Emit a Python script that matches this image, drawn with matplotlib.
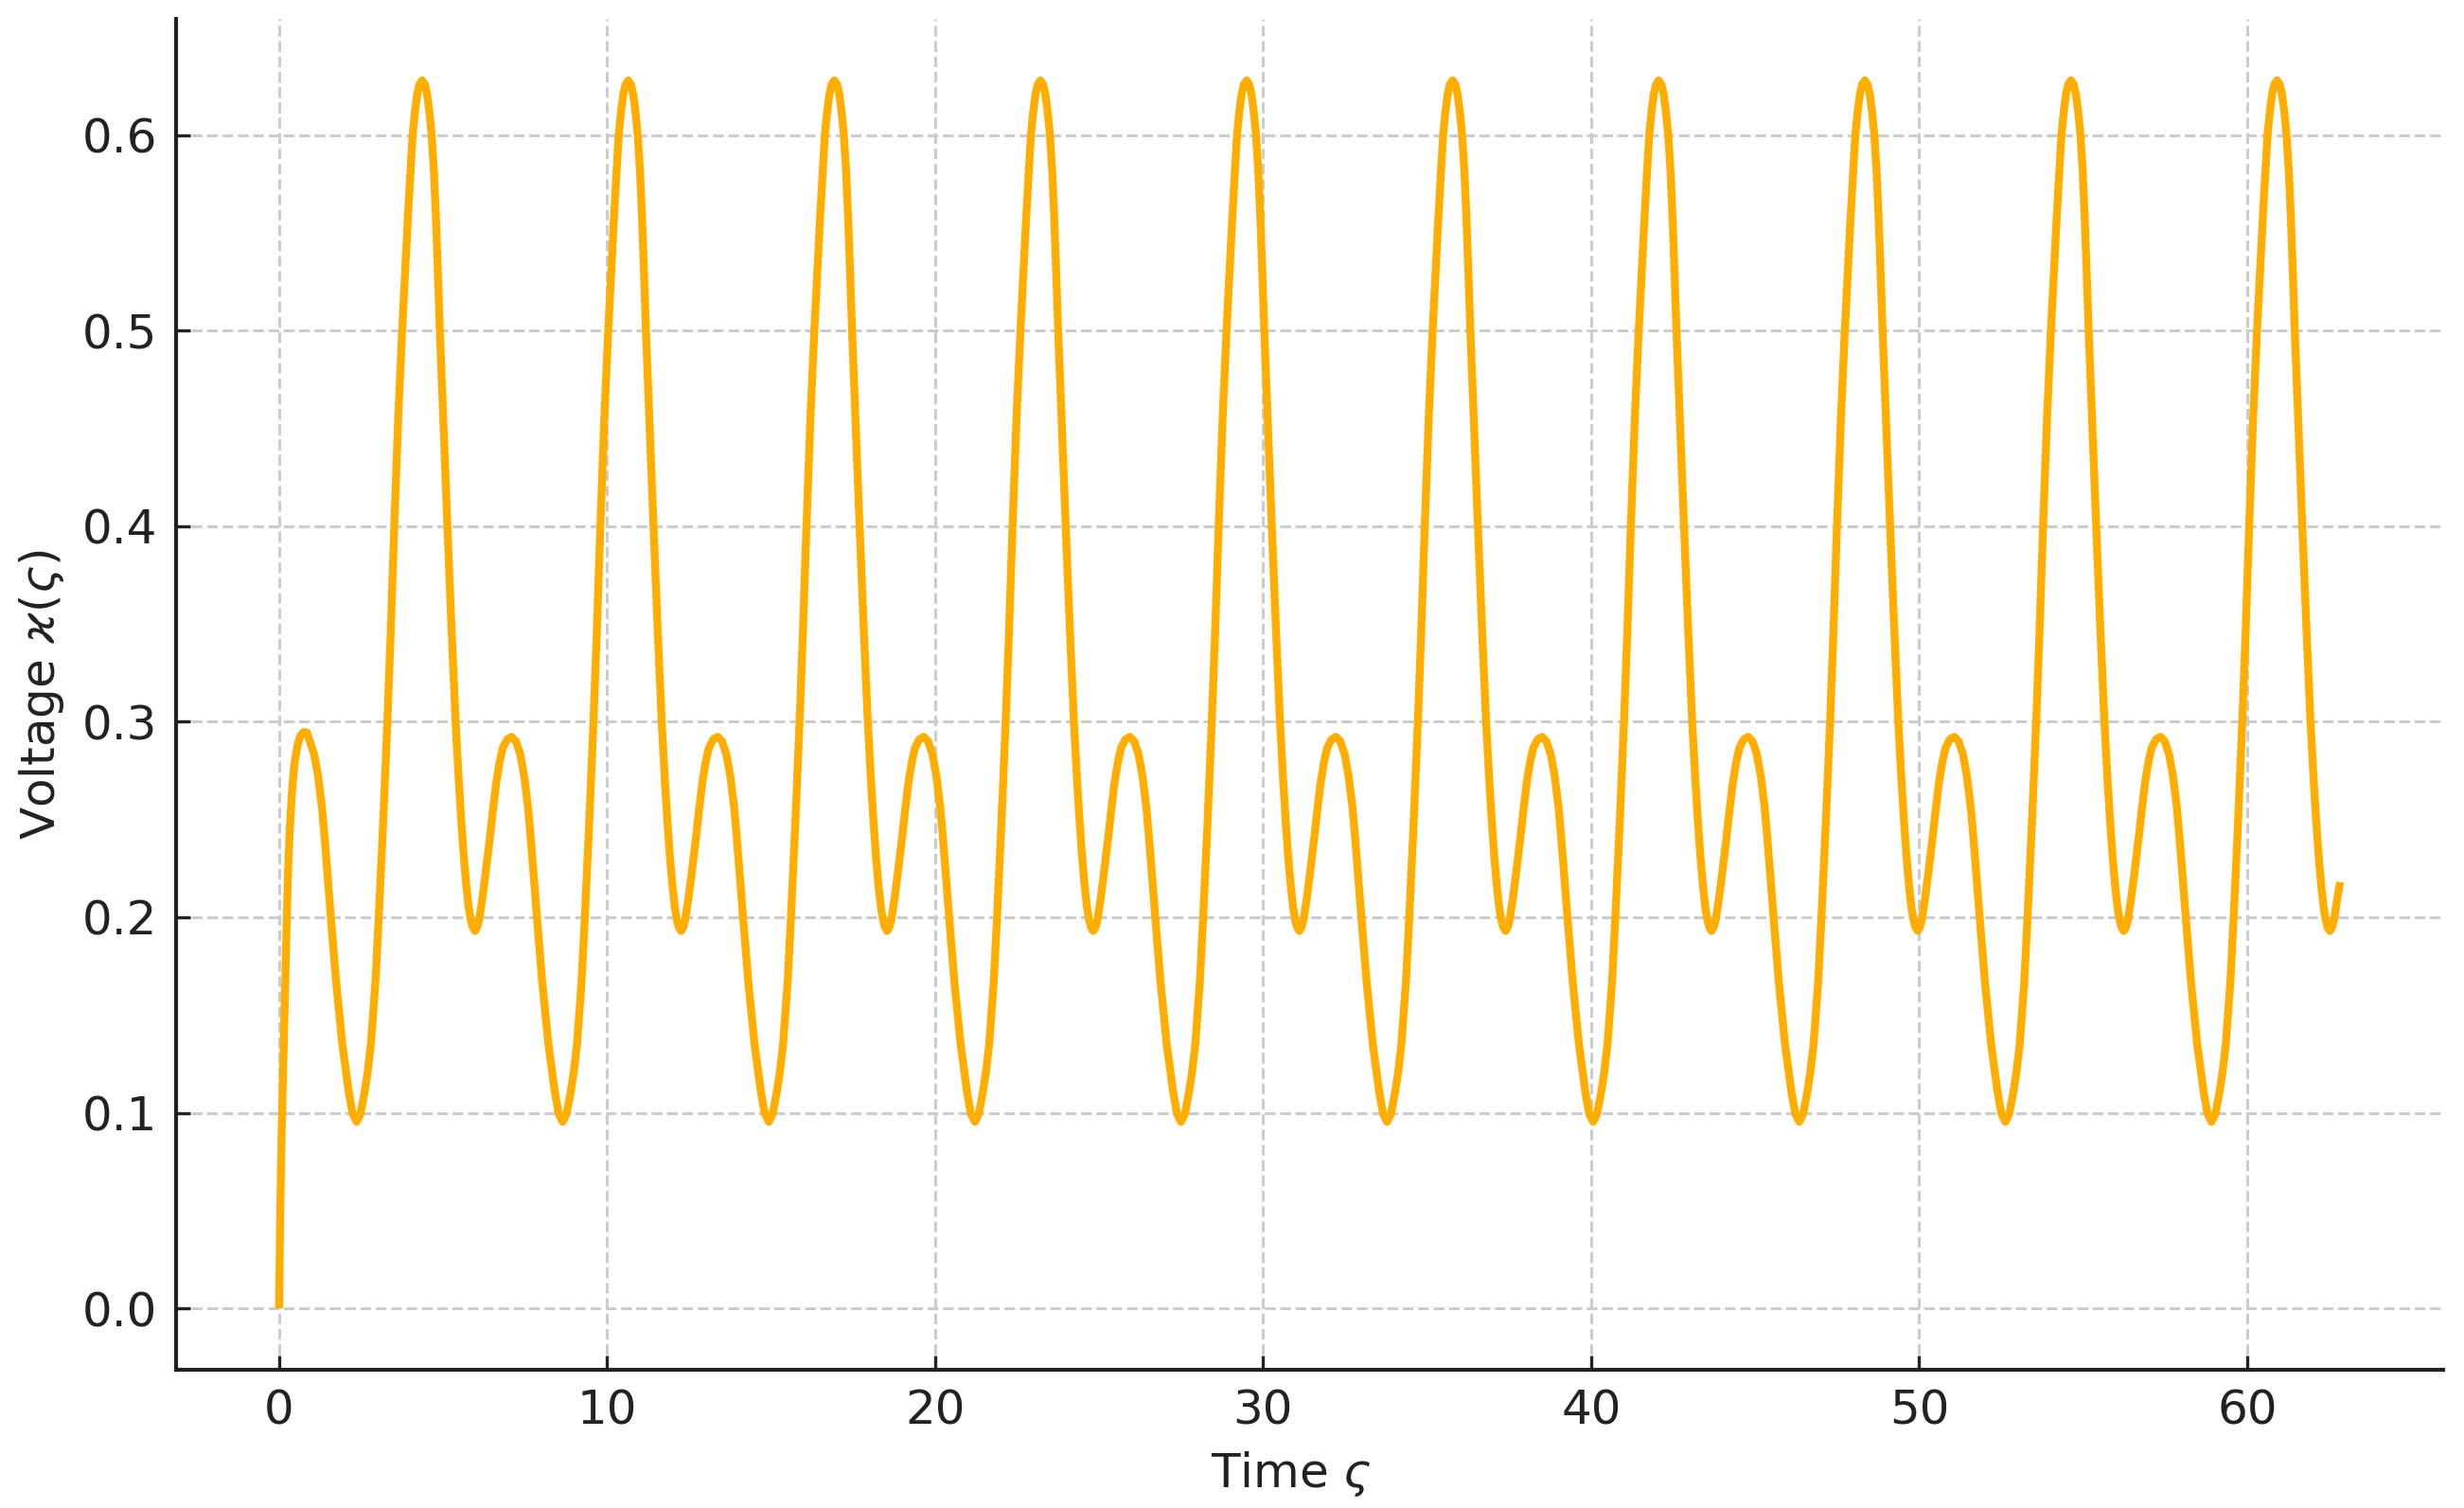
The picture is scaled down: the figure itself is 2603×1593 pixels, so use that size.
import numpy as np
import matplotlib
matplotlib.use("Agg")
import matplotlib.pyplot as plt

# ---- data ----
# start-up part of the signal (time s, voltage)
transient_t = [0.000, 0.030, 0.077, 0.115, 0.150, 0.220, 0.270, 0.318, 0.390,
               0.462, 0.560, 0.655, 0.750, 0.847]
transient_v = [0.000, 0.045, 0.090, 0.117, 0.140, 0.190, 0.222, 0.243, 0.264,
               0.278, 0.288, 0.293, 0.2948, 0.2945]

# one steady cycle: phase within the period (s) and voltage
cycle_phase = [0.000, 0.075, 0.147, 0.240, 0.337, 0.440, 0.537, 0.670, 0.802,
               0.935, 1.067, 1.190, 1.307, 1.380, 1.447, 1.577, 1.737, 1.927,
               2.122, 2.240, 2.363, 2.480, 2.607, 2.700, 2.797, 2.937, 3.037,
               3.170, 3.300, 3.400, 3.510, 3.630, 3.750, 3.840, 3.920, 4.000,
               4.070, 4.140, 4.210, 4.280, 4.360, 4.440, 4.510, 4.580, 4.650,
               4.720, 4.780, 4.840, 4.900, 5.010, 5.130, 5.255, 5.380, 5.470,
               5.550, 5.630, 5.710, 5.780, 5.840, 5.900, 5.970, 6.040, 6.100,
               6.190]
cycle_v = [0.221, 0.2315, 0.2415, 0.2555, 0.269, 0.2795, 0.2867, 0.2910, 0.2923,
           0.2900, 0.2834, 0.2720, 0.2560, 0.2420, 0.2280, 0.2000, 0.1670, 0.1350,
           0.1107, 0.0995, 0.0954, 0.0995, 0.1107, 0.1210, 0.1350, 0.1670, 0.2000,
           0.2480, 0.3000, 0.3450, 0.4000, 0.4550, 0.5000, 0.5300, 0.5560, 0.5800,
           0.6000, 0.6120, 0.6210, 0.6260, 0.6280, 0.6260, 0.6210, 0.6120, 0.6000,
           0.5810, 0.5580, 0.5300, 0.5000, 0.4520, 0.4000, 0.3480, 0.3000, 0.2720,
           0.2500, 0.2310, 0.2157, 0.2050, 0.1990, 0.1950, 0.1930, 0.1950, 0.1990,
           0.2090]
period = 2 * np.pi
n_cycles = 10
end_v = 0.218

x_ticks = [0, 10, 20, 30, 40, 50, 60]
y_ticks = [0.0, 0.1, 0.2, 0.3, 0.4, 0.5, 0.6]

# ---- assemble series ----
t_all = list(transient_t)
v_all = list(transient_v)
for k in range(n_cycles):
    for ph, v in zip(cycle_phase, cycle_v):
        tt = ph + k * period
        if tt > 0.9:
            t_all.append(tt)
            v_all.append(v)
t_all.append(n_cycles * period)
v_all.append(end_v)

# ---- plot ----
fig = plt.figure(figsize=(13.015, 7.965), dpi=200)
ax = fig.add_axes([186 / 2603, 1 - 1447 / 1593, (2581 - 186) / 2603, (1447 - 20) / 1593])

ax.plot(t_all, v_all, color="#FFAD00", linewidth=3.0,
        solid_joinstyle="round", solid_capstyle="butt")

ax.set_xticks(x_ticks)
ax.set_yticks(y_ticks)
ax.set_yticklabels([f"{y:.1f}" for y in y_ticks])

ax.grid(True, linestyle="--", color="#cccccc", linewidth=1.1)
for side in ["top", "right"]:
    ax.spines[side].set_visible(False)
for side in ["left", "bottom"]:
    ax.spines[side].set_linewidth(1.5)
    ax.spines[side].set_color("#222222")

ax.tick_params(direction="in", length=5.4, width=1.2, colors="#222222",
               labelsize=18, pad=7)

ax.set_xlabel(r"Time $\varsigma$", fontsize=18, color="#222222", labelpad=6)
ax.xaxis.label.set_x(0.492)
ax.set_ylabel(r"Voltage $\varkappa(\varsigma)$", fontsize=18, color="#222222", labelpad=6)

fig.savefig("out.png", dpi=200)
